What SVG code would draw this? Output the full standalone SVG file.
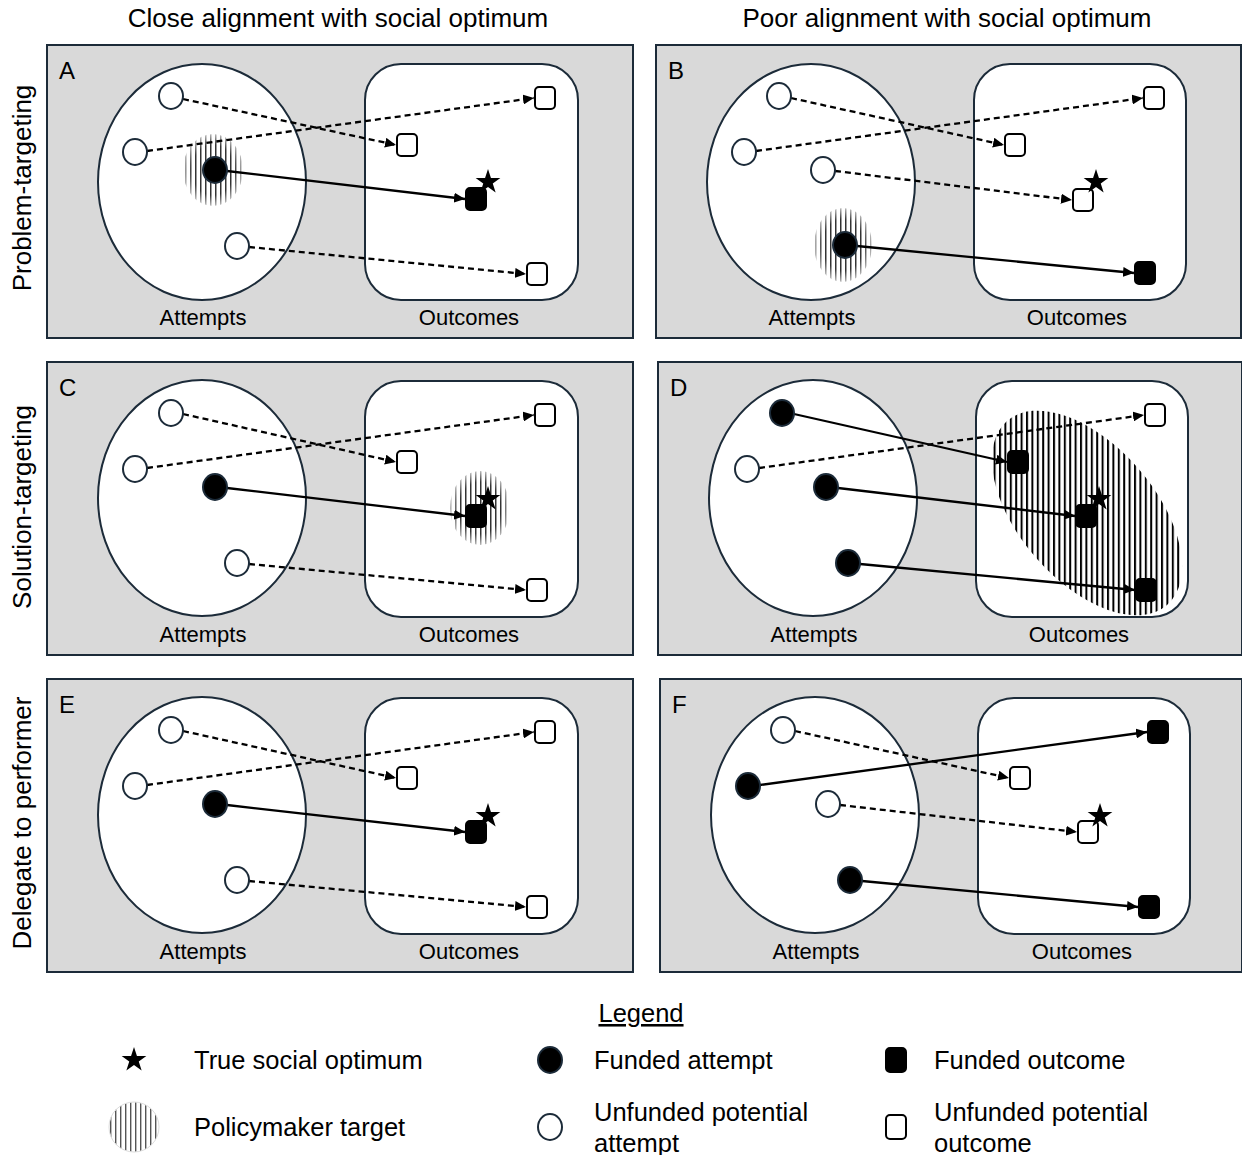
<svg xmlns="http://www.w3.org/2000/svg" width="1242" height="1155" viewBox="0 0 1242 1155">
<defs>
<style>
.panel{fill:#d9d9d9;stroke:#1c2b39;stroke-width:2}
.cont{fill:#fff;stroke:#1c2b39;stroke-width:2}
.ua{fill:#fff;stroke:#1c2b39;stroke-width:2}
.fa{fill:#000;stroke:#1c2b39;stroke-width:2}
.uo{fill:#fff;stroke:#000;stroke-width:2}
.fo{fill:#000;stroke:#000;stroke-width:2}
.dash{fill:none;stroke:#000;stroke-width:2.3;stroke-dasharray:6 4;marker-end:url(#arr)}
.solid{fill:none;stroke:#000;stroke-width:2.3;marker-end:url(#arr)}
text{font-family:"Liberation Sans",Arial,sans-serif;fill:#000}
.title{font-size:26px;text-anchor:middle}
.lab{font-size:22px;text-anchor:middle}
.let{font-size:24px}
.leg{font-size:25.5px}
</style>
<marker id="arr" markerUnits="userSpaceOnUse" markerWidth="12" markerHeight="10" refX="11" refY="5" orient="auto">
<path d="M0,0 L11,5 L0,10 z" fill="#000"/>
</marker>
<pattern id="hatch" width="5" height="10" patternUnits="userSpaceOnUse">
<rect x="0" y="0" width="1.5" height="10" fill="#333"/>
</pattern>
<pattern id="hatchD" width="5.4" height="10" patternUnits="userSpaceOnUse">
<rect x="0" y="0" width="2" height="10" fill="#000"/>
</pattern>
<pattern id="hatchL" width="5" height="10" patternUnits="userSpaceOnUse">
<rect x="0" y="0" width="1.4" height="10" fill="#555"/>
</pattern>
<radialGradient id="fade">
<stop offset="0.7" stop-color="#fff"/>
<stop offset="1" stop-color="#555"/>
</radialGradient>
<mask id="soft" maskContentUnits="objectBoundingBox">
<rect width="1" height="1" fill="url(#fade)"/>
</mask>
<clipPath id="clipD">
<ellipse cx="0" cy="0" rx="122" ry="68" transform="translate(1087,513) rotate(49)"/>
</clipPath>
<polygon id="star" points="0,-13 2.94,-4.05 12.36,-4.02 4.76,1.55 7.64,10.52 0,5 -7.64,10.52 -4.76,1.55 -12.36,-4.02 -2.94,-4.05" fill="#000"/>
</defs>

<g id="titles">
<text class="title" x="338" y="27">Close alignment with social optimum</text>
<text class="title" x="947" y="27">Poor alignment with social optimum</text>
<text class="title" transform="translate(31,188) rotate(-90)">Problem-targeting</text>
<text class="title" transform="translate(31,507) rotate(-90)">Solution-targeting</text>
<text class="title" transform="translate(31,823) rotate(-90)">Delegate to performer</text>
</g>

<!-- Panels -->
<g id="panelA">
<rect class="panel" x="47" y="45" width="586" height="293"/>
<ellipse class="cont" cx="202" cy="182" rx="104" ry="118"/>
<rect class="cont" x="365" y="64" width="213" height="236" rx="36"/>
<ellipse cx="213" cy="170" rx="30" ry="36" fill="url(#hatch)" mask="url(#soft)"/>
<text class="let" x="59" y="79">A</text>
<text class="lab" x="203" y="325">Attempts</text>
<text class="lab" x="469" y="325">Outcomes</text>
</g>
<g id="panelB">
<rect class="panel" x="656" y="45" width="585" height="293"/>
<ellipse class="cont" cx="811" cy="182" rx="104" ry="118"/>
<rect class="cont" x="974" y="64" width="212" height="236" rx="36"/>
<ellipse cx="843" cy="245" rx="29" ry="37" fill="url(#hatch)" mask="url(#soft)"/>
<text class="let" x="668" y="79">B</text>
<text class="lab" x="812" y="325">Attempts</text>
<text class="lab" x="1077" y="325">Outcomes</text>
</g>
<g id="panelC">
<rect class="panel" x="47" y="362" width="586" height="293"/>
<ellipse class="cont" cx="202" cy="498" rx="104" ry="118"/>
<rect class="cont" x="365" y="381" width="213" height="236" rx="36"/>
<ellipse cx="480" cy="508" rx="30" ry="37" fill="url(#hatch)" mask="url(#soft)"/>
<text class="let" x="59" y="396">C</text>
<text class="lab" x="203" y="642">Attempts</text>
<text class="lab" x="469" y="642">Outcomes</text>
</g>
<g id="panelD">
<rect class="panel" x="658" y="362" width="584" height="293"/>
<ellipse class="cont" cx="813" cy="498" rx="104" ry="118"/>
<rect class="cont" x="976" y="381" width="212" height="236" rx="36"/>
<rect x="960" y="400" width="240" height="230" fill="url(#hatchD)" clip-path="url(#clipD)"/>
<text class="let" x="670" y="396">D</text>
<text class="lab" x="814" y="642">Attempts</text>
<text class="lab" x="1079" y="642">Outcomes</text>
</g>
<g id="panelE">
<rect class="panel" x="47" y="679" width="586" height="293"/>
<ellipse class="cont" cx="202" cy="815" rx="104" ry="118"/>
<rect class="cont" x="365" y="698" width="213" height="236" rx="36"/>
<text class="let" x="59" y="713">E</text>
<text class="lab" x="203" y="959">Attempts</text>
<text class="lab" x="469" y="959">Outcomes</text>
</g>
<g id="panelF">
<rect class="panel" x="660" y="679" width="582" height="293"/>
<ellipse class="cont" cx="815" cy="815" rx="104" ry="118"/>
<rect class="cont" x="978" y="698" width="212" height="236" rx="36"/>
<text class="let" x="672" y="713">F</text>
<text class="lab" x="816" y="959">Attempts</text>
<text class="lab" x="1082" y="959">Outcomes</text>
</g>

<g id="connectors">
<line class="dash" x1="183" y1="99" x2="396" y2="145"/>
<line class="dash" x1="147" y1="151" x2="534" y2="98"/>
<line class="solid" x1="227" y1="171" x2="465" y2="199"/>
<line class="dash" x1="249" y1="247" x2="526" y2="274"/>

<line class="dash" x1="791" y1="98" x2="1004" y2="145"/>
<line class="dash" x1="756" y1="151" x2="1143" y2="98"/>
<line class="dash" x1="835" y1="171" x2="1072" y2="200"/>
<line class="solid" x1="857" y1="246" x2="1134" y2="273"/>

<line class="dash" x1="183" y1="414" x2="396" y2="462"/>
<line class="dash" x1="147" y1="468" x2="534" y2="415"/>
<line class="solid" x1="227" y1="488" x2="465" y2="516"/>
<line class="dash" x1="249" y1="564" x2="526" y2="590"/>

<line class="solid" x1="794" y1="414" x2="1007" y2="462"/>
<line class="dash" x1="759" y1="468" x2="1144" y2="415"/>
<line class="solid" x1="838" y1="488" x2="1075" y2="516"/>
<line class="solid" x1="860" y1="564" x2="1135" y2="590"/>

<line class="dash" x1="183" y1="731" x2="396" y2="778"/>
<line class="dash" x1="147" y1="785" x2="534" y2="732"/>
<line class="solid" x1="227" y1="805" x2="465" y2="832"/>
<line class="dash" x1="249" y1="881" x2="526" y2="907"/>

<line class="dash" x1="795" y1="731" x2="1009" y2="778"/>
<line class="solid" x1="760" y1="785" x2="1147" y2="732"/>
<line class="dash" x1="840" y1="805" x2="1077" y2="832"/>
<line class="solid" x1="862" y1="881" x2="1138" y2="907"/>
</g>

<g id="nodesA">
<g id="A-a1"><ellipse class="ua" cx="171" cy="96" rx="12" ry="13"/></g>
<g id="A-a2"><ellipse class="ua" cx="135" cy="152" rx="12" ry="13"/></g>
<g id="A-a3"><ellipse class="fa" cx="215" cy="170" rx="12" ry="13"/></g>
<g id="A-a4"><ellipse class="ua" cx="237" cy="246" rx="12" ry="13"/></g>
<g id="A-o1"><rect class="uo" x="535" y="87" width="20" height="22" rx="4"/></g>
<g id="A-o2"><rect class="uo" x="397" y="134" width="20" height="22" rx="4"/></g>
<g id="A-o3"><rect class="fo" x="466" y="188" width="20" height="22" rx="4"/></g>
<g id="A-o4"><rect class="uo" x="527" y="263" width="20" height="22" rx="4"/></g>
<g id="A-star"><use href="#star" x="488" y="182"/></g>
</g>
<g id="nodesB">
<g id="B-a1"><ellipse class="ua" cx="779" cy="96" rx="12" ry="13"/></g>
<g id="B-a2"><ellipse class="ua" cx="744" cy="152" rx="12" ry="13"/></g>
<g id="B-a3"><ellipse class="ua" cx="823" cy="170" rx="12" ry="13"/></g>
<g id="B-a4"><ellipse class="fa" cx="845" cy="245" rx="12" ry="13"/></g>
<g id="B-o1"><rect class="uo" x="1144" y="87" width="20" height="22" rx="4"/></g>
<g id="B-o2"><rect class="uo" x="1005" y="134" width="20" height="22" rx="4"/></g>
<g id="B-o3"><rect class="uo" x="1073" y="189" width="20" height="22" rx="4"/></g>
<g id="B-o4"><rect class="fo" x="1135" y="262" width="20" height="22" rx="4"/></g>
<g id="B-star"><use href="#star" x="1096" y="182"/></g>
</g>
<g id="nodesC">
<g id="C-a1"><ellipse class="ua" cx="171" cy="413" rx="12" ry="13"/></g>
<g id="C-a2"><ellipse class="ua" cx="135" cy="469" rx="12" ry="13"/></g>
<g id="C-a3"><ellipse class="fa" cx="215" cy="487" rx="12" ry="13"/></g>
<g id="C-a4"><ellipse class="ua" cx="237" cy="563" rx="12" ry="13"/></g>
<g id="C-o1"><rect class="uo" x="535" y="404" width="20" height="22" rx="4"/></g>
<g id="C-o2"><rect class="uo" x="397" y="451" width="20" height="22" rx="4"/></g>
<g id="C-o3"><rect class="fo" x="466" y="505" width="20" height="22" rx="4"/></g>
<g id="C-o4"><rect class="uo" x="527" y="579" width="20" height="22" rx="4"/></g>
<g id="C-star"><use href="#star" x="488" y="499"/></g>
</g>
<g id="nodesD">
<g id="D-a1"><ellipse class="fa" cx="782" cy="413" rx="12" ry="13"/></g>
<g id="D-a2"><ellipse class="ua" cx="747" cy="469" rx="12" ry="13"/></g>
<g id="D-a3"><ellipse class="fa" cx="826" cy="487" rx="12" ry="13"/></g>
<g id="D-a4"><ellipse class="fa" cx="848" cy="563" rx="12" ry="13"/></g>
<g id="D-o1"><rect class="uo" x="1145" y="404" width="20" height="22" rx="4"/></g>
<g id="D-o2"><rect class="fo" x="1008" y="451" width="20" height="22" rx="4"/></g>
<g id="D-o3"><rect class="fo" x="1076" y="505" width="20" height="22" rx="4"/></g>
<g id="D-o4"><rect class="fo" x="1136" y="579" width="20" height="22" rx="4"/></g>
<g id="D-star"><use href="#star" x="1099" y="499"/></g>
</g>
<g id="nodesE">
<g id="E-a1"><ellipse class="ua" cx="171" cy="730" rx="12" ry="13"/></g>
<g id="E-a2"><ellipse class="ua" cx="135" cy="786" rx="12" ry="13"/></g>
<g id="E-a3"><ellipse class="fa" cx="215" cy="804" rx="12" ry="13"/></g>
<g id="E-a4"><ellipse class="ua" cx="237" cy="880" rx="12" ry="13"/></g>
<g id="E-o1"><rect class="uo" x="535" y="721" width="20" height="22" rx="4"/></g>
<g id="E-o2"><rect class="uo" x="397" y="767" width="20" height="22" rx="4"/></g>
<g id="E-o3"><rect class="fo" x="466" y="821" width="20" height="22" rx="4"/></g>
<g id="E-o4"><rect class="uo" x="527" y="896" width="20" height="22" rx="4"/></g>
<g id="E-star"><use href="#star" x="488" y="816"/></g>
</g>
<g id="nodesF">
<g id="F-a1"><ellipse class="ua" cx="783" cy="730" rx="12" ry="13"/></g>
<g id="F-a2"><ellipse class="fa" cx="748" cy="786" rx="12" ry="13"/></g>
<g id="F-a3"><ellipse class="ua" cx="828" cy="804" rx="12" ry="13"/></g>
<g id="F-a4"><ellipse class="fa" cx="850" cy="880" rx="12" ry="13"/></g>
<g id="F-o1"><rect class="fo" x="1148" y="721" width="20" height="22" rx="4"/></g>
<g id="F-o2"><rect class="uo" x="1010" y="767" width="20" height="22" rx="4"/></g>
<g id="F-o3"><rect class="uo" x="1078" y="821" width="20" height="22" rx="4"/></g>
<g id="F-o4"><rect class="fo" x="1139" y="896" width="20" height="22" rx="4"/></g>
<g id="F-star"><use href="#star" x="1100" y="816"/></g>
</g>

<g id="legend">
<text class="leg" x="641" y="1022" text-anchor="middle" text-decoration="underline">Legend</text>
<use href="#star" x="134" y="1060"/>
<text class="leg" x="194" y="1069">True social optimum</text>
<circle cx="134" cy="1127" r="25" fill="url(#hatchL)" stroke="#ddd" stroke-width="1"/>
<text class="leg" x="194" y="1136">Policymaker target</text>
<ellipse class="fa" cx="550" cy="1060" rx="12" ry="13"/>
<text class="leg" x="594" y="1069">Funded attempt</text>
<ellipse class="ua" cx="550" cy="1127" rx="12" ry="13"/>
<text class="leg" x="594" y="1121">Unfunded potential</text>
<text class="leg" x="594" y="1152">attempt</text>
<rect class="fo" x="886" y="1048" width="20" height="24" rx="4"/>
<text class="leg" x="934" y="1069">Funded outcome</text>
<rect class="uo" x="886" y="1115" width="20" height="24" rx="4"/>
<text class="leg" x="934" y="1121">Unfunded potential</text>
<text class="leg" x="934" y="1152">outcome</text>
</g>
</svg>
